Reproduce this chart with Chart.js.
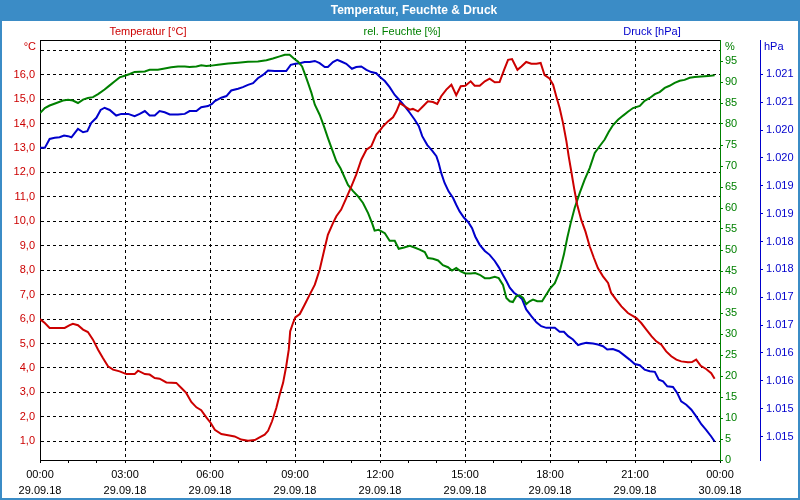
<!DOCTYPE html>
<html><head><meta charset="utf-8">
<script src="https://cdn.jsdelivr.net/npm/chart.js@4.4.1/dist/chart.umd.min.js"></script>
<style>html,body{margin:0;padding:0;background:#fff}canvas{display:block}</style>
</head><body>
<canvas id="c" width="800" height="500"></canvas>
<script>
const chartTitle = 'Temperatur, Feuchte & Druck';
const seriesLabels = ['Temperatur [°C]', 'rel. Feuchte [%]', 'Druck [hPa]'];
const unitLabels = ['°C', '%', 'hPa'];
const timeLabels = ['00:00','03:00','06:00','09:00','12:00','15:00','18:00','21:00','00:00'];
const dateLabels = ['29.09.18','29.09.18','29.09.18','29.09.18','29.09.18','29.09.18','29.09.18','29.09.18','30.09.18'];
const hourTicks = [0,1,2,3,4,5,6,7,8,9,10,11,12,13,14,15,16,17,18,19,20,21,22,23,24];
const tempTicks = [1,2,3,4,5,6,7,8,9,10,11,12,13,14,15,16,17];
const humTicks = [0,5,10,15,20,25,30,35,40,45,50,55,60,65,70,75,80,85,90,95];
const pressTicks = [1014.75,1015.25,1015.75,1016.25,1016.75,1017.25,1017.75,1018.25,1018.75,1019.25,1019.75,1020.25,1020.75,1021.25];

const tempTimes = [0,0.17,0.34,0.87,1.05,1.16,1.34,1.52,1.69,1.87,
2.05,2.22,2.40,2.58,2.81,3.05,3.34,3.46,3.70,3.87,
4.05,4.22,4.46,4.81,4.99,5.16,5.34,5.52,5.69,5.87,
6.02,6.17,6.40,6.64,6.87,7.10,7.34,7.58,7.75,7.93,
8.05,8.19,8.34,8.46,8.58,8.69,8.78,8.83,8.93,9.01,
9.17,9.34,9.52,9.70,9.87,10.02,10.16,10.34,10.46,10.63,
10.81,10.99,11.16,11.34,11.52,11.69,11.87,12.02,12.11,12.28,
12.46,12.58,12.70,12.87,13.05,13.16,13.34,13.52,13.69,13.87,
14.02,14.16,14.34,14.52,14.69,14.85,15.01,15.20,15.34,15.52,
15.70,15.87,16.05,16.22,16.38,16.52,16.66,16.85,16.99,17.16,
17.34,17.52,17.67,17.81,17.98,18.11,18.22,18.34,18.46,18.58,
18.66,18.75,18.85,18.96,19.10,19.25,19.40,19.55,19.69,19.87,
20.05,20.16,20.34,20.52,20.75,21.05,21.22,21.40,21.58,21.75,
21.93,22.10,22.28,22.46,22.63,22.87,23.01,23.16,23.32,23.51,
23.69,23.81];
const tempValues = [6.0,5.84,5.64,5.64,5.75,5.81,5.75,5.57,5.47,5.16,
4.75,4.41,4.07,3.93,3.86,3.75,3.75,3.89,3.75,3.73,
3.59,3.56,3.41,3.39,3.18,2.98,2.61,2.39,2.27,1.98,
1.76,1.47,1.30,1.25,1.20,1.07,1.02,1.05,1.16,1.27,
1.43,1.82,2.36,2.91,3.39,4.07,4.75,5.50,5.84,6.07,
6.21,6.59,7.00,7.41,8.02,8.77,9.45,9.93,10.21,10.48,
10.95,11.43,11.91,12.52,12.93,13.07,13.55,13.75,13.89,14.09,
14.26,14.50,14.84,14.71,14.57,14.60,14.50,14.71,14.91,14.88,
14.80,15.12,15.39,15.59,15.16,15.53,15.55,15.73,15.55,15.55,
15.73,15.84,15.69,15.70,16.20,16.61,16.64,16.20,16.34,16.52,
16.45,16.45,16.48,15.98,15.85,15.59,15.12,14.64,14.02,13.27,
12.66,12.05,11.36,10.68,10.07,9.59,8.98,8.50,8.09,7.75,
7.48,7.07,6.79,6.52,6.25,6.04,5.84,5.57,5.30,5.09,
4.95,4.68,4.48,4.34,4.27,4.23,4.24,4.34,4.09,3.96,
3.79,3.56];

const humTimes = [0,0.17,0.34,0.58,0.81,0.99,1.16,1.34,1.52,1.69,
1.87,2.05,2.28,2.46,2.64,2.81,2.99,3.17,3.34,3.70,
3.87,4.16,4.40,4.63,4.87,5.11,5.28,5.52,5.69,5.87,
6.05,6.28,6.64,6.99,7.34,7.69,7.99,8.22,8.46,8.64,
8.81,8.96,9.11,9.25,9.36,9.46,9.58,9.70,9.87,10.02,
10.16,10.31,10.46,10.61,10.75,10.87,11.05,11.22,11.40,11.58,
11.72,11.81,11.95,12.07,12.17,12.34,12.52,12.66,12.85,13.05,
13.22,13.40,13.58,13.69,13.87,14.05,14.22,14.40,14.54,14.69,
14.85,15.01,15.20,15.36,15.52,15.70,15.87,16.05,16.19,16.34,
16.46,16.58,16.69,16.81,16.93,17.05,17.16,17.28,17.40,17.55,
17.72,17.87,18.00,18.17,18.34,18.49,18.61,18.73,18.87,19.05,
19.22,19.40,19.58,19.75,19.93,20.07,20.22,20.40,20.58,20.75,
20.93,21.17,21.34,21.52,21.70,21.87,22.05,22.22,22.40,22.58,
22.75,22.93,23.11,23.34,23.58,23.81];
const humValues = [82.6,83.8,84.4,85.0,85.6,85.8,85.6,85.0,85.8,86.2,
86.4,87.1,88.2,89.2,90.2,91.1,91.5,91.9,92.4,92.5,
92.9,92.9,93.2,93.5,93.7,93.7,93.6,93.7,94.0,93.8,
93.9,94.1,94.4,94.6,94.8,94.9,95.2,95.6,96.1,96.5,
96.5,95.6,94.8,93.7,91.7,89.8,87.4,84.6,82.2,79.5,
76.7,73.9,71.1,69.4,67.3,65.5,64.0,62.8,61.2,58.8,
56.4,54.6,54.8,54.4,54.0,52.2,52.2,50.3,50.6,51.0,
50.6,50.1,49.5,48.1,47.9,47.5,46.4,45.9,45.1,45.7,
44.9,44.4,44.4,44.5,44.1,43.3,43.3,43.6,43.3,41.7,
38.6,37.8,37.6,39.0,39.2,38.6,37.1,37.8,38.2,37.8,
37.8,39.4,40.8,42.1,44.9,48.9,52.9,56.4,60.0,63.6,
66.7,69.5,73.1,74.7,76.3,78.1,79.7,81.0,82.0,82.9,
83.8,84.3,85.5,86.2,87.1,87.6,88.6,89.1,89.8,90.3,
90.5,91.0,91.2,91.3,91.4,91.6];

const pressTimes = [0,0.17,0.34,0.52,0.69,0.85,0.99,1.11,1.23,1.34,
1.52,1.67,1.81,1.99,2.14,2.28,2.46,2.69,2.87,3.11,
3.34,3.52,3.70,3.87,4.05,4.22,4.40,4.58,4.87,5.11,
5.28,5.52,5.69,5.93,6.07,6.17,6.40,6.58,6.75,6.99,
7.16,7.34,7.52,7.69,7.87,8.05,8.28,8.52,8.69,8.85,
9.01,9.17,9.34,9.52,9.70,9.87,10.05,10.16,10.34,10.49,
10.63,10.81,11.01,11.16,11.34,11.52,11.69,11.87,12.00,12.17,
12.34,12.52,12.70,12.87,13.05,13.22,13.37,13.49,13.67,13.84,
13.99,14.07,14.16,14.28,14.42,14.58,14.69,14.81,14.96,15.11,
15.25,15.36,15.52,15.70,15.87,16.05,16.19,16.34,16.46,16.58,
16.73,16.87,17.01,17.16,17.34,17.52,17.69,17.87,18.17,18.34,
18.49,18.64,18.81,18.99,19.10,19.28,19.52,19.69,19.87,20.02,
20.22,20.43,20.61,20.81,20.99,21.17,21.34,21.52,21.70,21.84,
21.99,22.14,22.34,22.49,22.63,22.81,22.99,23.16,23.34,23.51,
23.69,23.81];
const pressValues = [1019.93,1019.93,1020.09,1020.11,1020.12,1020.15,1020.14,1020.12,1020.20,1020.27,
1020.21,1020.23,1020.38,1020.47,1020.61,1020.65,1020.61,1020.51,1020.54,1020.54,
1020.50,1020.54,1020.59,1020.51,1020.51,1020.59,1020.57,1020.53,1020.53,1020.54,
1020.59,1020.59,1020.66,1020.68,1020.72,1020.77,1020.83,1020.86,1020.96,1020.99,
1021.02,1021.06,1021.09,1021.18,1021.24,1021.32,1021.31,1021.31,1021.31,1021.42,
1021.44,1021.45,1021.47,1021.47,1021.49,1021.45,1021.38,1021.38,1021.47,1021.51,
1021.48,1021.44,1021.35,1021.38,1021.39,1021.33,1021.29,1021.27,1021.20,1021.13,
1021.02,1020.88,1020.78,1020.68,1020.56,1020.44,1020.32,1020.14,1019.98,1019.88,
1019.78,1019.66,1019.48,1019.30,1019.15,1019.03,1018.91,1018.79,1018.68,1018.60,
1018.49,1018.34,1018.19,1018.08,1018.01,1017.90,1017.79,1017.65,1017.54,1017.42,
1017.33,1017.28,1017.22,1017.03,1016.91,1016.80,1016.73,1016.70,1016.70,1016.63,
1016.63,1016.55,1016.49,1016.39,1016.41,1016.43,1016.42,1016.40,1016.37,1016.31,
1016.32,1016.28,1016.21,1016.13,1016.05,1016.03,1015.95,1015.92,1015.91,1015.77,
1015.74,1015.65,1015.64,1015.53,1015.38,1015.32,1015.23,1015.11,1014.97,1014.87,
1014.75,1014.66];

const FONT = "'Liberation Sans', Arial, sans-serif";
const RED = '#cc0000', GREEN = '#008000', BLUE = '#0000cc', BAR = '#3b8cc6';

function pts(t, v) { return t.map((x, i) => ({x: x, y: v[i]})); }
function fixTicks(arr) { return s => { s.ticks = arr.map(v => ({value: v})); }; }
function fixW(w) { return s => { s.width = w; s.paddingTop = 0; s.paddingBottom = 0; }; }
function fixH(h) { return s => { s.height = h; s.paddingLeft = 0; s.paddingRight = 0; }; }

Chart.defaults.font.family = FONT;
Chart.defaults.font.size = 11;

const decor = {
  id: 'decor',
  beforeDraw(chart) {
    const c = chart.ctx;
    c.save();
    c.fillStyle = '#fff'; c.fillRect(0, 0, chart.width, chart.height);
    c.fillStyle = BAR; c.fillRect(0, 0, chart.width, 21);
    c.restore();
  },
  afterDraw(chart) {
    const c = chart.ctx;
    c.save();
    c.textBaseline = 'middle';
    c.textAlign = 'center';
    c.fillStyle = '#fff';
    c.font = 'bold 12px ' + FONT;
    c.fillText(chartTitle, 414, 10.5);
    c.font = '11px ' + FONT;
    const lx = [148, 402, 652];
    chart.data.datasets.forEach((ds, i) => { c.fillStyle = ds.borderColor; c.fillText(ds.label, lx[i], 32); });
    c.textAlign = 'right'; c.fillStyle = RED; c.fillText(unitLabels[0], 36, 46.5);
    c.textAlign = 'left'; c.fillStyle = GREEN; c.fillText(unitLabels[1], 725, 46.5);
    c.fillStyle = BLUE; c.fillText(unitLabels[2], 764, 46.5);
    c.strokeStyle = BAR; c.lineWidth = 2;
    c.strokeRect(1, 1, chart.width - 2, chart.height - 2);
    c.restore();
  }
};

new Chart(document.getElementById('c'), {
  type: 'line',
  data: {
    datasets: [
      {label: seriesLabels[0], data: pts(tempTimes, tempValues), yAxisID: 'yT', borderColor: RED},
      {label: seriesLabels[1], data: pts(humTimes, humValues), yAxisID: 'yH', borderColor: GREEN},
      {label: seriesLabels[2], data: pts(pressTimes, pressValues), yAxisID: 'yP', borderColor: BLUE}
    ]
  },
  options: {
    responsive: false, animation: false, devicePixelRatio: 1, events: [],
    layout: {padding: {top: 40, left: 0, right: 0, bottom: 0}},
    elements: {line: {borderWidth: 2, tension: 0, fill: false}, point: {radius: 0}},
    plugins: {legend: {display: false}, tooltip: {enabled: false}, title: {display: false}},
    scales: {
      x: {
        type: 'linear', position: 'bottom', min: 0, max: 24,
        afterBuildTicks: fixTicks(hourTicks), afterFit: fixH(40),
        ticks: {autoSkip: false, maxRotation: 0, minRotation: 0, padding: 4, color: '#000',
          font: {size: 11, lineHeight: 16 / 11},
          callback: v => (v % 3 === 0 ? [timeLabels[v / 3], dateLabels[v / 3]] : '')},
        grid: {color: c => (c.tick && c.tick.value % 3 === 0 && c.tick.value > 0 && c.tick.value < 24) ? '#000' : 'rgba(0,0,0,0)',
          tickColor: '#000', tickLength: 3, lineWidth: 1},
        border: {display: true, color: '#000', width: 1, dash: [3, 3]}
      },
      xTop: {
        type: 'linear', position: 'top', min: 0, max: 24, afterFit: fixH(0),
        ticks: {display: false}, grid: {display: false, drawTicks: false},
        border: {display: true, color: '#000', width: 1}
      },
      yT: {
        type: 'linear', position: 'left', min: 0.235, max: 17.42,
        afterBuildTicks: fixTicks(tempTicks), afterFit: fixW(40),
        ticks: {autoSkip: false, padding: 5, color: RED,
          callback: v => (v === 17 ? '' : v.toFixed(1).replace('.', ','))},
        grid: {color: '#000', drawTicks: false, lineWidth: 1},
        border: {display: true, color: '#000', width: 1, dash: [3, 3]}
      },
      yH: {
        type: 'linear', position: 'right', weight: 1, min: 0, max: 100,
        afterBuildTicks: fixTicks(humTicks), afterFit: fixW(40),
        ticks: {autoSkip: false, padding: 2, color: GREEN, callback: v => String(v)},
        grid: {drawOnChartArea: false, color: GREEN, tickColor: GREEN, tickLength: 3},
        border: {display: true, color: GREEN, width: 1}
      },
      yP: {
        type: 'linear', position: 'right', weight: 2, min: 1014.328, max: 1021.866,
        afterBuildTicks: fixTicks(pressTicks), afterFit: fixW(40),
        ticks: {autoSkip: false, padding: 3, color: BLUE,
          callback: v => (Math.round(v) / 1000).toFixed(3)},
        grid: {drawOnChartArea: false, color: BLUE, tickColor: BLUE, tickLength: 3},
        border: {display: true, color: BLUE, width: 1}
      }
    }
  },
  plugins: [decor]
});
</script>
</body></html>
